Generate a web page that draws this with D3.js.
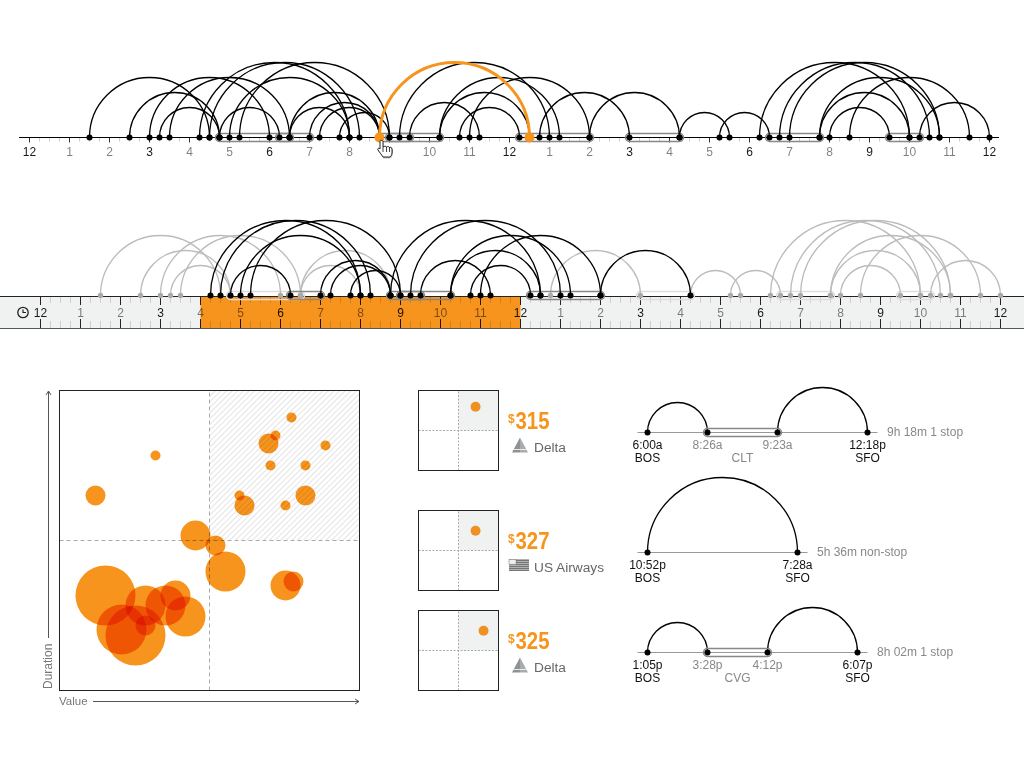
<!DOCTYPE html>
<html>
<head>
<meta charset="utf-8">
<script src="https://cdn.jsdelivr.net/npm/d3@7"></script>
<style>
  html, body { margin: 0; padding: 0; background: #fff; }
  svg { display: block; }
  text { font-family: 'Liberation Sans', Arial, sans-serif; }
</style>
</head>
<body>
<svg id="chart" width="1024" height="768"></svg>
<script>
// flights, in hours from midnight
const flightDepart = [1.5, 2.5, 3, 3.25, 3.5, 4.25, 4.5, 4.75, 5, 5.25, 6.5, 6.5, 7, 7.25, 7.75, 9.25, 9.5, 10.25, 10.25, 10.75, 11, 12.75, 14, 16.25, 17.25, 18.25, 18.75, 19, 19.75, 19.75, 20, 20.5, 22.25]
const flightArrive = [4.5, 4.75, 6, 4.75, 6.5, 8, 8.25, 6.25, 8, 9, 8.75, 8, 8.75, 8.75, 9, 13, 11.25, 13.25, 12.5, 12.25, 14, 15, 16.25, 17.5, 18.5, 22, 22.5, 22.75, 22, 22.75, 21.5, 23.5, 24]
const flightInRange = [0, 0, 0, 0, 0, 1, 1, 1, 1, 1, 0, 0, 1, 1, 1, 1, 1, 1, 1, 1, 1, 0, 1, 0, 0, 0, 0, 0, 0, 0, 0, 0, 0]
const layoverStart = [4.75, 6.25, 8.75, 9, 12.25, 15, 18.5, 21.5]
const layoverEnd = [6.5, 7, 9.5, 10.25, 14, 16.25, 19.75, 22.25]
const layoverInRange = [0, 1, 1, 1, 1, 0, 0, 0]
const selectedDepart = 8.75
const selectedArrive = 12.5
const brushStart = 4
const brushEnd = 12
const hourLabels = ['12', '1', '2', '3', '4', '5', '6', '7', '8', '9', '10', '11', '12', '1', '2', '3', '4', '5', '6', '7', '8', '9', '10', '11', '12']

// value / duration scatter, both on a 0-300 score
const scatterValue = [232, 216, 209, 266, 96, 211, 246, 36, 246, 180, 185, 226, 136, 156, 166, 226, 234, 46, 86, 106, 116, 126, 62, 76, 86]
const scatterDuration = [273, 255, 247, 245, 235, 225, 225, 195, 195, 195, 185, 185, 155, 145, 119, 105, 109, 95, 85, 85, 95, 74, 61, 55, 65]
const scatterSize = [1, 1, 2, 1, 1, 1, 1, 2, 2, 1, 2, 1, 3, 2, 4, 3, 2, 6, 4, 4, 3, 4, 5, 6, 2]

// the three picked itineraries
const pickValue = [214, 214, 244]
const pickDuration = [239, 224, 224]
const pickPrice = ['315', '327', '325']
const pickAirline = ['Delta', 'US Airways', 'Delta']
const pickSummary = ['9h 18m 1 stop', '5h 36m non-stop', '8h 02m 1 stop']
const pickSlots = [[0, 3, 6.5, 11], [0, 7.5], [0, 3, 6, 10.5]]
const pickTimes = [['6:00a', '8:26a', '9:23a', '12:18p'], ['10:52p', '7:28a'], ['1:05p', '3:28p', '4:12p', '6:07p']]
const pickAirports = [['BOS', 'CLT', 'SFO'], ['BOS', 'SFO'], ['BOS', 'CVG', 'SFO']]

const orange = '#f7941d'
const svg = d3.select('#chart')
const halfCircle = d3.arc().startAngle(-Math.PI / 2).endAngle(Math.PI / 2)

const defs = svg.append('defs')
const hatch = defs.append('pattern')
  .attr('id', 'hatch')
  .attr('patternUnits', 'userSpaceOnUse')
  .attr('width', 4)
  .attr('height', 4)
  .attr('patternTransform', 'rotate(45)')
hatch.append('line')
  .attr('x1', 0).attr('x2', 0)
  .attr('y1', 0).attr('y2', 4)
  .attr('stroke', '#d8d8d8')
  .attr('stroke-width', 1.4)

function drawArc(g, x, from, to, color, width) {
  g.append('path')
    .attr('transform', 'translate(' + ((x(from) + x(to)) / 2) + ',0)')
    .attr('d', halfCircle({ innerRadius: (x(to) - x(from)) / 2, outerRadius: (x(to) - x(from)) / 2 }))
    .attr('fill', 'none')
    .attr('stroke', color)
    .attr('stroke-width', width)
}

function drawDots(g, x, hours, color, r) {
  g.selectAll(null)
    .data(hours)
    .enter()
    .append('circle')
    .attr('cx', x)
    .attr('cy', 0)
    .attr('r', r)
    .attr('fill', color)
}

function drawLayover(g, x0, x1, color) {
  g.append('rect')
    .attr('x', x0 - 4)
    .attr('y', -4)
    .attr('width', x1 - x0 + 8)
    .attr('height', 8)
    .attr('rx', 4)
    .attr('fill', 'none')
    .attr('stroke', color)
    .attr('stroke-width', 1.5)
}

function drawHourLabels(g, x, y, size) {
  g.selectAll(null)
    .data(hourLabels)
    .enter()
    .append('text')
    .attr('x', function(d, i) { return x(i) })
    .attr('y', y)
    .attr('text-anchor', 'middle')
    .attr('font-size', size)
    .attr('fill', '#000')
    .attr('fill-opacity', function(d, i) { return i % 3 === 0 ? 0.9 : 0.5 })
    .text(function(d) { return d })
}

// top timeline
function drawTopTimeline() {
  const x = d3.scaleLinear().domain([0, 24]).range([29.5, 989.5])
  const g = svg.append('g').attr('transform', 'translate(0,137.5)')

  g.selectAll(null)
    .data(d3.range(0, 24.01, 0.25))
    .enter()
    .append('line')
    .attr('x1', x).attr('x2', x)
    .attr('y1', 0)
    .attr('y2', function(d) { return d % 1 === 0 ? 5 : 4 })
    .attr('stroke', function(d) { return d % 1 === 0 ? '#333' : '#ccc' })

  g.append('line')
    .attr('x1', 19).attr('x2', 999)
    .attr('stroke', '#000')

  layoverStart.forEach(function(d, i) { drawLayover(g, x(d), x(layoverEnd[i]), '#888') })
  flightDepart.forEach(function(d, i) { drawArc(g, x, d, flightArrive[i], '#000', 1.3) })
  drawDots(g, x, flightDepart.concat(flightArrive), '#000', 3)

  drawArc(g, x, selectedDepart, selectedArrive, orange, 3)
  drawDots(g, x, [selectedDepart, selectedArrive], orange, 5)

  drawHourLabels(svg.append('g'), x, 155.5, 12)
}

// brushable timeline
function drawRuler() {
  const x = d3.scaleLinear().domain([0, 24]).range([40.5, 1000.5])
  const top = 296
  const bottom = 328
  const ruler = svg.append('g')

  ruler.append('rect')
    .attr('x', 0).attr('y', top)
    .attr('width', 1024).attr('height', bottom - top)
    .attr('fill', '#f0f2f1')
  ruler.append('rect')
    .attr('x', x(brushStart)).attr('y', top)
    .attr('width', x(brushEnd) - x(brushStart)).attr('height', bottom - top)
    .attr('fill', orange)

  const quarters = d3.range(0, 24.01, 0.25)
  ;[[top, 1], [bottom, -1]].forEach(function(edge) {
    ruler.selectAll(null)
      .data(quarters)
      .enter()
      .append('line')
      .attr('x1', x)
      .attr('x2', x)
      .attr('y1', edge[0])
      .attr('y2', function(d) { return edge[0] + edge[1] * (d % 1 === 0 ? 9 : 7) })
      .attr('stroke', '#000')
      .attr('stroke-opacity', function(d) { return d % 1 === 0 ? 0.85 : 0.14 })
  })

  ruler.append('line').attr('x1', 0).attr('x2', 1024).attr('y1', top + 0.5).attr('y2', top + 0.5).attr('stroke', '#222')
  ruler.append('line').attr('x1', 0).attr('x2', 1024).attr('y1', bottom + 0.5).attr('y2', bottom + 0.5).attr('stroke', '#555')

  drawHourLabels(ruler, x, 317, 12)

  // clock icon
  const clock = ruler.append('g').attr('transform', 'translate(23,312.5)')
  clock.append('circle').attr('r', 5.2).attr('fill', 'none').attr('stroke', '#222').attr('stroke-width', 1.3)
  clock.append('path').attr('d', 'M0,-3V0H3').attr('fill', 'none').attr('stroke', '#222').attr('stroke-width', 1.2)

  const g = svg.append('g').attr('transform', 'translate(0,' + (top - 0.5) + ')')

  layoverStart.forEach(function(d, i) {
    if (!layoverInRange[i]) drawLayover(g, x(d), x(layoverEnd[i]), '#ddd')
  })
  flightDepart.forEach(function(d, i) {
    if (!flightInRange[i]) drawArc(g, x, d, flightArrive[i], '#bbb', 1.3)
  })
  const grayHours = []
  const blackHours = [selectedDepart, selectedArrive]
  flightDepart.forEach(function(d, i) {
    (flightInRange[i] ? blackHours : grayHours).push(d, flightArrive[i])
  })
  drawDots(g, x, grayHours, '#aaa', 2.7)

  layoverStart.forEach(function(d, i) {
    if (layoverInRange[i]) drawLayover(g, x(d), x(layoverEnd[i]), '#888')
  })
  flightDepart.forEach(function(d, i) {
    if (flightInRange[i]) drawArc(g, x, d, flightArrive[i], '#000', 1.3)
  })
  drawArc(g, x, selectedDepart, selectedArrive, '#000', 1.3)
  drawDots(g, x, blackHours, '#000', 3)
}

// value / duration scatter
function drawScatter() {
  const x = d3.scaleLinear().domain([0, 300]).range([59.5, 359.5])
  const y = d3.scaleLinear().domain([0, 300]).range([690.5, 390.5])
  const r = d3.scaleLinear().domain([0, 6]).range([0, 30])
  const g = svg.append('g')

  g.append('rect')
    .attr('x', x(150)).attr('y', y(300))
    .attr('width', x(300) - x(150)).attr('height', y(150) - y(300))
    .attr('fill', 'url(#hatch)')
  g.append('line')
    .attr('x1', x(150)).attr('x2', x(150))
    .attr('y1', y(0)).attr('y2', y(300))
    .attr('stroke', '#aaa').attr('stroke-dasharray', '4,3')
  g.append('line')
    .attr('x1', x(0)).attr('x2', x(300))
    .attr('y1', y(150)).attr('y2', y(150))
    .attr('stroke', '#aaa').attr('stroke-dasharray', '4,3')

  g.selectAll(null)
    .data(scatterValue)
    .enter()
    .append('circle')
    .attr('cx', function(d) { return x(d) })
    .attr('cy', function(d, i) { return y(scatterDuration[i]) })
    .attr('r', function(d, i) { return r(scatterSize[i]) })
    .attr('fill', orange)
    .style('mix-blend-mode', 'multiply')

  g.append('rect')
    .attr('x', x(0)).attr('y', y(300))
    .attr('width', x(300) - x(0)).attr('height', y(0) - y(300))
    .attr('fill', 'none')
    .attr('stroke', '#222')

  // axis titles and arrows
  g.append('text')
    .attr('x', 59).attr('y', 705)
    .attr('font-size', 11.5).attr('fill', '#777')
    .text('Value')
  g.append('text')
    .attr('transform', 'translate(52,689) rotate(-90)')
    .attr('font-size', 12).attr('fill', '#777')
    .text('Duration')
  g.append('path')
    .attr('d', 'M93,701.5H359M355,699L359,701.5L355,704')
    .attr('fill', 'none').attr('stroke', '#555')
  g.append('path')
    .attr('d', 'M48.5,638V391M46,395L48.5,391L51,395')
    .attr('fill', 'none').attr('stroke', '#555')
}

function drawDeltaLogo(g) {
  g.append('path').attr('d', 'M8,0L0,15H8Z').attr('fill', '#8f9294')
  g.append('path').attr('d', 'M8,0L16,15H8Z').attr('fill', '#a9acae')
  g.append('path').attr('d', 'M1.6,12H14.4').attr('stroke', '#fff').attr('stroke-width', 0.8)
}

function drawFlagLogo(g) {
  g.selectAll(null)
    .data(d3.range(6))
    .enter()
    .append('rect')
    .attr('x', 0)
    .attr('y', function(d) { return d * 2 })
    .attr('width', 20)
    .attr('height', 1.4)
    .attr('fill', '#666')
  g.append('rect').attr('width', 7).attr('height', 5).attr('fill', '#eee').attr('stroke', '#777').attr('stroke-width', 0.5)
}

// mini plot, price and airline of one pick
function drawPick(i, top) {
  const x = d3.scaleLinear().domain([0, 300]).range([418.5, 498.5])
  const y = d3.scaleLinear().domain([0, 300]).range([top + 80, top])
  const g = svg.append('g')

  g.append('rect')
    .attr('x', x(150)).attr('y', y(300))
    .attr('width', x(300) - x(150)).attr('height', y(150) - y(300))
    .attr('fill', '#f0f2f1')
  g.append('line')
    .attr('x1', x(150)).attr('x2', x(150))
    .attr('y1', y(0)).attr('y2', y(300))
    .attr('stroke', '#aaa').attr('stroke-dasharray', '2,1.5')
  g.append('line')
    .attr('x1', x(0)).attr('x2', x(300))
    .attr('y1', y(150)).attr('y2', y(150))
    .attr('stroke', '#aaa').attr('stroke-dasharray', '2,1.5')
  g.append('rect')
    .attr('x', x(0)).attr('y', y(300))
    .attr('width', 80).attr('height', 80)
    .attr('fill', 'none')
    .attr('stroke', '#222')
  g.append('circle')
    .attr('cx', x(pickValue[i]))
    .attr('cy', y(pickDuration[i]))
    .attr('r', 5)
    .attr('fill', '#ee9122')

  g.append('text')
    .attr('x', 508).attr('y', top + 32.5)
    .attr('font-size', 12).attr('font-weight', 'bold')
    .attr('fill', orange)
    .text('$')
  g.append('text')
    .attr('x', 515.5).attr('y', top + 38.5)
    .attr('font-size', 23.5).attr('font-weight', 'bold')
    .attr('fill', orange)
    .attr('textLength', 34)
    .attr('lengthAdjust', 'spacingAndGlyphs')
    .text(pickPrice[i])
  g.append('text')
    .attr('x', 534).attr('y', top + 61)
    .attr('font-size', 13.7).attr('fill', '#666')
    .text(pickAirline[i])

  if (pickAirline[i] === 'Delta') {
    drawDeltaLogo(g.append('g').attr('transform', 'translate(512,' + (top + 47) + ')'))
  } else {
    drawFlagLogo(g.append('g').attr('transform', 'translate(509,' + (top + 49) + ')'))
  }
}

// arc diagram of one pick
function drawItinerary(i, base) {
  const x = d3.scaleLinear().domain([0, 1]).range([647.5, 667.5])
  const slots = pickSlots[i]
  const last = slots[slots.length - 1]
  const g = svg.append('g').attr('transform', 'translate(0,' + base + ')')

  g.append('line')
    .attr('x1', x(0) - 10).attr('x2', x(last) + 10)
    .attr('stroke', '#999')

  for (let s = 0; s < slots.length; s += 2) {
    drawArc(g, x, slots[s], slots[s + 1], '#000', 1.3)
  }
  for (let s = 1; s < slots.length - 1; s += 2) {
    drawLayover(g, x(slots[s]), x(slots[s + 1]), '#888')
  }
  drawDots(g, x, slots, '#000', 3)

  slots.forEach(function(d, s) {
    const isEnd = s === 0 || s === slots.length - 1
    g.append('text')
      .attr('x', x(d))
      .attr('y', 16)
      .attr('text-anchor', 'middle')
      .attr('font-size', 12)
      .attr('fill', isEnd ? '#111' : '#888')
      .text(pickTimes[i][s])
  })

  const airports = pickAirports[i]
  g.append('text')
    .attr('x', x(slots[0])).attr('y', 29.5)
    .attr('text-anchor', 'middle').attr('font-size', 12).attr('fill', '#111')
    .text(airports[0])
  g.append('text')
    .attr('x', x(last)).attr('y', 29.5)
    .attr('text-anchor', 'middle').attr('font-size', 12).attr('fill', '#111')
    .text(airports[airports.length - 1])
  if (airports.length === 3) {
    g.append('text')
      .attr('x', (x(slots[1]) + x(slots[2])) / 2).attr('y', 29.5)
      .attr('text-anchor', 'middle').attr('font-size', 12).attr('fill', '#888')
      .text(airports[1])
  }

  g.append('text')
    .attr('x', x(last) + 19.5).attr('y', 3)
    .attr('font-size', 12).attr('fill', '#888')
    .text(pickSummary[i])
}

function drawCursor() {
  const g = svg.append('g').attr('transform', 'translate(377,140)')
  g.append('path')
    .attr('d', 'M3,1.5C3,0 6,0 6,1.5V7C7,6 9,6 9.5,7C10.5,6.2 12,6.5 12.5,7.5C13.5,7 15,7.5 15,9V13C15,15 14,16 13,17H6C5,15 3,13 1,10C0,8.5 2,7.5 3,9Z')
    .attr('fill', '#000')
    .attr('opacity', 0.25)
    .attr('transform', 'translate(0.5,1.5)')
  g.append('path')
    .attr('d', 'M3,1.5C3,0 6,0 6,1.5V7C7,6 9,6 9.5,7C10.5,6.2 12,6.5 12.5,7.5C13.5,7 15,7.5 15,9V13C15,15 14,16 13,17H6C5,15 3,13 1,10C0,8.5 2,7.5 3,9Z')
    .attr('fill', '#fff')
    .attr('stroke', '#111')
    .attr('stroke-width', 0.9)
  g.append('path')
    .attr('d', 'M6,7V12M9.5,7V12M12.5,7.5V12')
    .attr('stroke', '#111')
    .attr('stroke-width', 0.8)
}

drawTopTimeline()
drawRuler()
drawScatter()
drawPick(0, 390.5)
drawPick(1, 510.5)
drawPick(2, 610.5)
drawItinerary(0, 432.5)
drawItinerary(1, 552.5)
drawItinerary(2, 652.5)
drawCursor()
</script>
</body>
</html>
